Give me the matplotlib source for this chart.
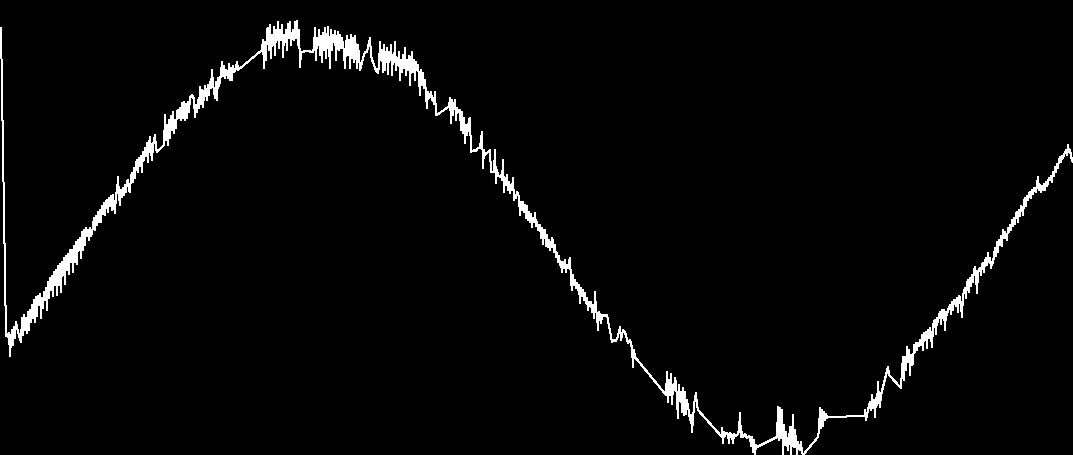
import numpy as np
from matplotlib import pyplot as plt

# readings (sample index, level) -- level axis runs top to bottom
lead_in = [(1, 28), (6, 336), (7, 334), (8, 337), (9, 333), (10, 356), (11, 340), (12, 330),
           (13, 345), (14, 327), (15, 338), (16, 322), (18, 332), (21, 342), (22, 318), (23, 335),
           (24, 315), (25, 330), (26, 318), (27, 333), (28, 312), (29, 330), (30, 310), (31, 322),
           (32, 305), (33, 318), (34, 300), (35, 322), (36, 297), (37, 316), (38, 296), (39, 305),
           (40, 294), (41, 318), (42, 298), (43, 308), (44, 292), (45, 300), (46, 288), (47, 310),
           (48, 282), (49, 298), (50, 278), (51, 290), (52, 276), (53, 296), (54, 272), (55, 285),
           (56, 270), (57, 295), (58, 266), (59, 285), (60, 264), (61, 292), (62, 262), (63, 275),
           (64, 258), (65, 284), (66, 256), (67, 270), (68, 254), (69, 274), (70, 250), (71, 262),
           (72, 250), (73, 272), (74, 246), (75, 262), (76, 242), (77, 264), (78, 240), (79, 250),
           (80, 238), (81, 258), (82, 232), (83, 250), (84, 230), (85, 245), (86, 228), (87, 236),
           (88, 230), (89, 240), (90, 228), (91, 236), (92, 233), (94, 218), (95, 230), (96, 216),
           (97, 225), (98, 212), (99, 222)]

rise_1 = [(100, 210), (101, 222), (102, 206), (103, 214), (104, 203), (105, 215), (106, 202),
          (107, 200), (108, 212), (109, 198), (110, 206), (111, 196), (112, 210), (113, 195),
          (114, 205), (115, 213), (116, 194), (117, 192), (118, 177), (119, 196), (120, 205),
          (121, 190), (122, 197), (123, 188), (124, 195), (125, 185), (126, 192), (127, 182),
          (128, 180), (129, 190), (130, 192), (131, 176), (132, 173), (133, 182), (134, 168),
          (135, 178), (136, 164), (137, 160), (138, 172), (139, 158), (140, 166), (141, 156),
          (142, 172), (143, 152), (144, 160), (145, 148), (146, 156), (147, 143), (148, 162),
          (149, 144), (150, 137), (151, 150), (152, 160), (153, 146), (154, 140), (155, 135),
          (156, 148), (157, 152), (164, 145), (165, 115), (166, 140), (167, 125), (168, 145),
          (169, 120), (170, 138), (171, 116), (172, 130), (173, 112), (174, 133), (175, 120),
          (176, 128), (177, 112), (178, 110), (179, 118), (180, 108), (181, 120), (182, 103),
          (183, 118), (184, 102), (185, 120), (186, 104), (187, 118), (188, 102), (189, 112),
          (190, 98), (191, 96), (192, 95), (193, 96), (194, 100), (195, 117), (196, 105),
          (197, 112), (198, 100), (199, 108), (200, 87), (201, 104), (202, 90), (203, 107),
          (204, 95), (205, 86), (206, 92), (207, 100), (208, 85), (209, 95), (210, 82), (211, 88),
          (212, 70), (213, 85), (214, 90), (215, 98), (216, 82), (217, 100), (218, 78), (219, 86),
          (220, 80), (221, 74), (222, 62), (223, 76), (224, 66), (225, 78), (226, 70), (227, 72),
          (228, 78), (229, 64), (230, 80), (231, 68), (232, 80), (233, 66), (234, 72), (235, 70),
          (236, 68), (237, 62), (238, 70), (262, 50)]

crest = [(263, 40), (264, 68), (265, 42), (266, 60), (267, 30), (268, 28), (269, 50), (270, 25),
         (271, 58), (272, 35), (273, 45), (274, 27), (275, 55), (276, 30), (277, 40), (278, 22),
         (279, 48), (280, 30), (281, 40), (282, 25), (283, 57), (284, 35), (285, 42), (286, 30),
         (287, 50), (288, 24), (289, 38), (290, 22), (291, 45), (292, 35), (293, 30), (294, 40),
         (295, 22), (296, 38), (297, 21), (298, 45), (299, 30), (300, 67), (301, 52), (307, 51),
         (313, 52), (314, 48), (315, 28), (316, 60), (317, 38), (318, 45), (319, 30), (320, 55),
         (321, 36), (322, 62), (323, 33), (324, 50), (325, 28), (326, 58), (327, 40), (328, 27),
         (329, 45), (330, 68), (331, 30), (332, 50), (333, 35), (334, 42), (335, 31), (336, 60),
         (337, 40), (338, 32), (339, 50), (340, 35), (341, 48), (342, 38), (343, 45), (344, 52),
         (345, 68), (346, 45), (347, 36), (348, 55), (349, 40), (350, 68), (351, 35), (352, 58),
         (353, 38), (354, 62), (355, 36), (356, 50), (357, 68), (358, 45), (359, 55), (360, 70),
         (362, 62), (364, 55), (365, 52), (367, 52), (370, 38), (371, 55), (372, 60), (373, 62),
         (375, 68), (377, 72), (378, 73), (379, 65), (380, 42), (381, 60), (382, 50), (383, 72),
         (384, 45), (385, 70), (386, 55), (387, 48), (388, 74), (389, 52), (390, 60), (391, 45),
         (392, 75), (393, 55), (394, 62), (395, 42), (396, 70), (397, 58), (398, 65), (399, 52),
         (400, 80), (401, 60), (402, 72), (403, 55), (404, 68), (405, 48), (406, 75), (407, 60),
         (408, 70), (409, 56), (410, 85), (411, 62), (412, 52), (413, 72), (414, 60), (415, 80),
         (416, 62), (417, 70), (418, 65), (419, 78), (420, 95), (421, 70), (422, 85), (423, 73),
         (424, 88), (425, 80), (426, 95), (427, 108), (428, 92), (429, 98), (430, 96), (431, 92),
         (432, 100), (433, 98), (434, 104), (435, 92), (436, 115), (437, 115), (448, 107)]

fall = [(449, 107), (450, 98), (451, 123), (452, 100), (453, 115), (454, 105), (455, 100),
        (456, 120), (457, 108), (458, 112), (459, 110), (460, 110), (461, 130), (462, 112),
        (463, 133), (464, 118), (465, 143), (466, 125), (467, 135), (468, 128), (469, 120),
        (470, 118), (471, 152), (474, 150), (476, 151), (478, 148), (480, 148), (481, 140),
        (482, 132), (483, 168), (484, 150), (485, 155), (487, 153), (488, 152), (490, 150),
        (491, 172), (494, 172), (495, 150), (496, 183), (497, 170), (498, 175), (500, 177),
        (501, 175), (502, 180), (503, 160), (504, 192), (505, 178), (506, 185), (507, 175),
        (508, 190), (509, 182), (510, 193), (511, 185), (512, 190), (513, 178), (514, 200),
        (515, 195), (516, 198), (517, 192), (518, 193), (519, 198), (520, 215), (521, 202),
        (522, 210), (523, 202), (524, 212), (525, 205), (526, 218), (527, 206), (528, 220),
        (529, 212), (530, 222), (531, 214), (532, 227), (533, 218), (534, 222), (535, 213),
        (536, 226), (537, 222), (538, 230), (539, 225), (540, 225), (541, 238), (542, 228),
        (543, 244), (544, 230), (545, 230), (546, 246), (547, 235), (548, 247), (549, 240),
        (550, 250), (551, 245), (552, 238), (553, 242), (554, 252), (555, 245), (556, 257),
        (557, 253), (558, 262), (559, 256), (560, 265), (561, 262), (562, 272), (563, 262),
        (564, 268), (565, 260), (566, 272), (567, 265), (568, 268), (569, 262), (570, 258),
        (571, 280), (572, 290), (573, 275), (574, 285), (575, 280), (576, 288), (577, 283),
        (578, 290), (579, 285), (580, 303), (581, 288), (582, 296), (583, 290), (584, 300),
        (585, 293), (586, 303), (587, 298), (588, 310), (589, 302), (590, 306), (591, 302),
        (592, 312), (593, 305), (594, 318), (595, 292), (596, 310), (597, 315), (598, 330),
        (599, 312), (600, 315), (601, 323), (602, 315), (604, 316), (606, 315), (607, 315),
        (612, 342), (614, 340), (616, 341), (618, 336), (620, 327), (621, 340), (623, 330),
        (625, 332), (626, 336), (628, 343), (630, 340), (632, 348), (633, 367), (634, 350),
        (635, 357), (666, 395)]

trough = [(667, 372), (668, 402), (669, 380), (670, 395), (671, 374), (672, 404), (673, 385),
          (674, 390), (675, 378), (676, 383), (677, 400), (678, 418), (679, 385), (680, 400),
          (681, 392), (682, 412), (683, 388), (684, 415), (685, 392), (686, 414), (687, 400),
          (688, 407), (689, 412), (690, 420), (691, 415), (692, 432), (693, 420), (694, 405),
          (695, 398), (696, 393), (697, 405), (698, 410), (722, 437), (722, 428), (723, 443),
          (724, 432), (725, 436), (726, 433), (728, 434), (729, 443), (730, 433), (732, 435),
          (733, 443), (734, 434), (736, 436), (738, 434), (739, 430), (740, 413), (741, 437),
          (742, 432), (743, 437), (745, 434), (747, 438), (749, 436), (750, 437), (751, 446),
          (752, 437), (753, 452), (754, 440), (755, 455), (756, 445), (757, 447), (777, 437),
          (778, 407), (779, 440), (780, 408), (781, 438), (782, 410), (783, 455), (784, 425),
          (785, 445), (786, 432), (787, 443), (788, 450), (789, 440), (790, 427), (791, 455),
          (792, 438), (793, 415), (794, 447), (795, 430), (796, 440), (797, 455), (798, 442),
          (799, 448), (800, 450), (801, 442), (802, 452), (803, 455), (818, 437), (819, 430),
          (820, 408), (821, 428), (822, 410), (823, 426), (824, 412), (825, 420), (826, 414),
          (827, 418), (828, 417), (865, 416), (865, 410), (866, 420), (868, 410), (870, 402),
          (871, 410), (872, 395), (873, 408), (874, 400), (875, 417), (876, 398), (877, 405),
          (878, 382), (879, 400), (880, 407), (881, 395), (888, 367), (889, 375), (901, 388)]

rise_2 = [(902, 370), (903, 357), (904, 380), (905, 357), (906, 370), (907, 347), (908, 362),
          (909, 350), (910, 375), (911, 355), (912, 365), (913, 363), (914, 345), (915, 352),
          (916, 343), (917, 350), (918, 343), (919, 346), (920, 340), (921, 345), (922, 335),
          (923, 350), (924, 333), (925, 340), (926, 332), (927, 348), (928, 330), (929, 338),
          (930, 328), (931, 335), (932, 347), (933, 326), (934, 322), (935, 320), (936, 334),
          (937, 318), (938, 322), (939, 315), (940, 312), (941, 324), (942, 310), (943, 318),
          (944, 310), (945, 330), (946, 312), (947, 315), (948, 310), (949, 308), (950, 305),
          (951, 314), (952, 302), (953, 310), (954, 300), (955, 300), (956, 306), (957, 298),
          (958, 312), (959, 296), (960, 297), (961, 305), (962, 317), (963, 295), (964, 292),
          (965, 288), (966, 298), (967, 284), (968, 280), (969, 292), (970, 278), (971, 286),
          (972, 275), (973, 282), (974, 270), (975, 267), (976, 275), (977, 293), (978, 272),
          (979, 270), (980, 268), (981, 275), (982, 265), (983, 263), (984, 272), (985, 262),
          (986, 258), (987, 265), (988, 253), (989, 262), (990, 258), (991, 268), (992, 262),
          (993, 263), (994, 255), (995, 248), (996, 256), (997, 242), (998, 252), (999, 240),
          (1000, 245), (1001, 236), (1002, 246), (1003, 230), (1004, 238), (1005, 232),
          (1006, 236), (1007, 240), (1008, 228), (1009, 232), (1010, 225), (1011, 230),
          (1012, 220), (1013, 226), (1014, 218), (1015, 224), (1016, 214), (1017, 212),
          (1018, 222), (1019, 210), (1020, 216), (1021, 206), (1022, 208), (1023, 215),
          (1024, 202), (1025, 198), (1026, 206), (1027, 196), (1028, 200), (1029, 194),
          (1030, 192), (1031, 198), (1032, 190), (1033, 194), (1034, 188), (1035, 188),
          (1036, 192), (1037, 185), (1038, 177), (1039, 190), (1040, 185), (1041, 192),
          (1042, 186), (1043, 190), (1044, 184), (1045, 190), (1046, 182), (1047, 186),
          (1048, 182), (1049, 178), (1050, 180), (1051, 176), (1052, 182), (1053, 172),
          (1054, 176), (1055, 167), (1056, 172), (1057, 164), (1058, 168), (1059, 160),
          (1060, 157), (1061, 162), (1062, 156), (1063, 158), (1064, 154), (1065, 153),
          (1066, 150), (1067, 155), (1068, 145), (1069, 152), (1070, 150), (1071, 156),
          (1072, 160), (1073, 162)]

pts = np.array(lead_in + rise_1 + crest + fall + trough + rise_2, dtype=float)
t, level = pts[:, 0], pts[:, 1]

fig = plt.figure(figsize=(10.73, 4.55), dpi=100, facecolor='black')
ax = fig.add_axes([0, 0, 1, 1])
ax.set_facecolor('black')
ax.plot(t, level, color='white', linewidth=0.72, antialiased=False)
ax.set_xlim(0, 1073)
ax.set_ylim(455, 0)
ax.axis('off')

fig.savefig('out.png', dpi=100, facecolor='black')
